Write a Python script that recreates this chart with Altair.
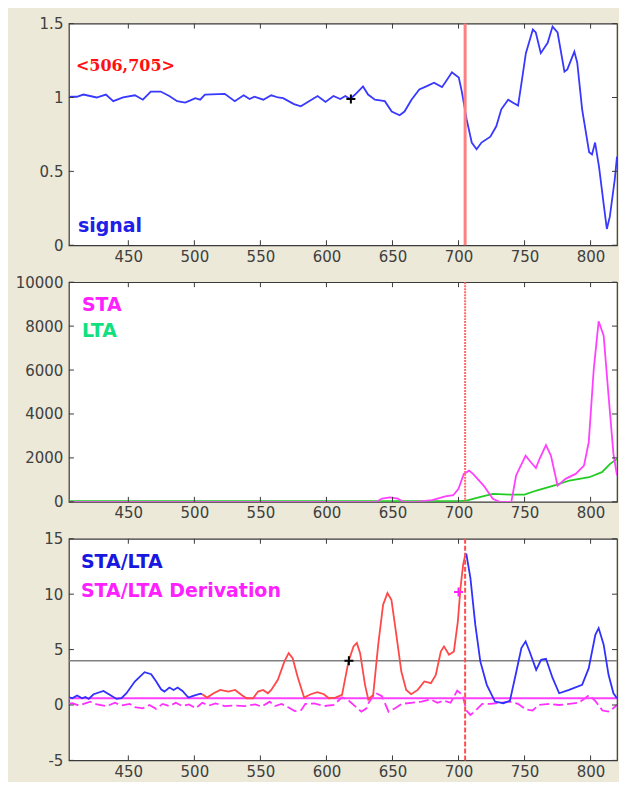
import altair as alt
import pandas as pd

# ---------------- data ----------------
x_ticks = [450, 500, 550, 600, 650, 700, 750, 800]
y1_ticks = [0, 0.5, 1, 1.5]
y2_ticks = [0, 2000, 4000, 6000, 8000, 10000]
y3_ticks = [-5, 0, 5, 10, 15]

trigger_on = 506
trigger_off = 705
threshold = 4
deriv_level = 0.6

sig_x = [405, 406.5, 411, 416, 426, 433, 438.6, 446, 455, 461, 467, 474.5, 481, 487, 493, 497,
         500.7, 504.4, 508, 523, 530.6, 537.3, 541.8, 545.5, 552.2, 558.2, 563.4, 567.2, 575.4,
         580.6, 585.9, 593.3, 599.3, 605.3, 610.5, 614.3, 618, 621.7, 627.7, 631.5, 636.7, 644.2,
         649.4, 655.4, 659.1, 664.4, 670.3, 675.6, 681.5, 687.5, 691.3, 695, 700.2, 702.5, 706.2,
         710, 713.7, 717.4, 724.1, 728.6, 732.4, 737.6, 741.3, 745.1, 747.3, 751, 756.3, 758.5,
         762.3, 767.5, 771.2, 775, 780.2, 782.4, 787.7, 789.9, 793.6, 798.9, 801.1, 803.4, 806.4,
         810.1, 812.3, 814.6, 818.3, 820]
sig_y = [1.0, 1.005, 1.005, 1.02, 1.0, 1.02, 0.975, 1.0, 1.015, 0.985, 1.04, 1.04, 1.01, 0.975,
         0.965, 0.98, 0.995, 0.985, 1.02, 1.025, 0.975, 1.015, 0.99, 1.005, 0.985, 1.015, 1.0,
         0.995, 0.955, 0.94, 0.97, 1.01, 0.97, 1.01, 0.99, 1.01, 0.99, 1.02, 1.075, 1.02, 0.985,
         0.975, 0.905, 0.88, 0.905, 0.985, 1.055, 1.075, 1.10, 1.07, 1.12, 1.17, 1.135, 1.04,
         0.85, 0.695, 0.65, 0.695, 0.735, 0.805, 0.92, 0.985, 0.965, 0.945, 1.075, 1.30, 1.46,
         1.44, 1.30, 1.37, 1.48, 1.44, 1.175, 1.19, 1.31, 1.235, 0.92, 0.63, 0.615, 0.695, 0.53,
         0.265, 0.11, 0.195, 0.445, 0.6]

sta_x = [405, 638, 642, 648, 654, 658, 668, 680, 690, 696, 700, 704, 708, 711, 719, 726, 731,
         740, 743.6, 750.8, 754.8, 758.6, 761.3, 766.2, 770, 775, 781, 788.7, 795, 798.6, 802.4,
         806.1, 809.9, 813.6, 817.3, 820]
sta_y = [0, 0, 150, 200, 150, 0, 0, 80, 250, 300, 590, 1270, 1420, 1270, 740, 140, 0, 0, 1200,
         2100, 1800, 1540, 1950, 2580, 2100, 740, 1045, 1270, 1650, 2710, 6045, 8220, 7560, 4830,
         2180, 1200]

lta_x = [405, 700, 706, 716, 726, 739, 750, 759, 774, 784, 799, 808.6, 814.8, 820]
lta_y = [30, 30, 50, 210, 360, 330, 330, 515, 770, 970, 1120, 1350, 1730, 1950]

ratio_pre_x = [405, 407.5, 411.2, 415, 417.5, 420, 423.7, 431.2, 436.2, 441.1, 444.8, 448.6,
               454.9, 462.3, 467.3, 471.1, 474.8, 477.3, 481.1, 484.3, 487.3, 491, 495.4, 499.7,
               504.6, 506]
ratio_pre_y = [0.7, 0.61, 0.85, 0.61, 0.73, 0.55, 0.97, 1.27, 0.91, 0.55, 0.61, 1.06, 2.12, 2.96,
               2.78, 2.12, 1.42, 1.21, 1.58, 1.36, 1.58, 1.27, 0.67, 0.85, 1.03, 0.97]

ratio_trig_x = [506, 509.6, 514.6, 519.6, 525.8, 530.8, 535.8, 539.5, 544.5, 548.2, 552, 555.7,
                558.2, 563.2, 568.2, 571.4, 574.4, 578.1, 583.1, 588.1, 593.1, 598.1, 601.8,
                606.8, 611.8, 616.7, 620.5, 623, 625.5, 629.2, 631.7, 635.4, 639.2, 642.9, 646.2,
                649.2, 652.9, 656.7, 660.4, 664.1, 669.1, 674.1, 679.1, 682.8, 686.6, 689, 692.8,
                696.5, 699.5, 701.5, 703.5, 705]
ratio_trig_y = [0.97, 0.67, 1.06, 1.36, 1.21, 1.36, 0.91, 0.61, 0.61, 1.21, 1.36, 1.06, 1.36,
                2.27, 3.93, 4.68, 4.23, 2.57, 0.67, 0.97, 1.15, 0.97, 0.61, 0.67, 0.91, 3.93,
                5.29, 5.59, 4.68, 1.82, 0.5, 0.91, 5.44, 9.05, 10.1, 9.5, 6.34, 3.02, 1.36, 0.97,
                1.36, 2.12, 1.97, 2.72, 4.83, 5.29, 4.53, 4.83, 7.55, 10.57, 12.67, 13.5]

ratio_post_x = [705, 706, 709, 712.7, 716.5, 721.4, 727.6, 733.9, 738.9, 743.8, 747.6, 750.8,
                753.8, 758.8, 762.5, 766.2, 771.3, 776.2, 783.7, 793.6, 798.6, 803.6, 806.1,
                809.9, 813.6, 817.3, 820]
ratio_post_y = [13.5, 13.58, 11.47, 7.25, 3.93, 1.82, 0.31, 0.16, 0.37, 3.02, 5.14, 5.74, 4.83,
                3.17, 4.08, 4.17, 2.42, 1.06, 1.36, 1.82, 3.32, 6.34, 6.94, 5.44, 2.72, 1.06, 0.6]

deriv_x = [405, 407.5, 412.5, 416.2, 421.2, 426.2, 433.6, 439.9, 444.8, 451.1, 454.9, 461, 466,
           471, 476, 481, 486, 491, 496, 501, 506, 511, 516, 523, 531, 538, 546, 551, 557, 561,
           566, 571, 576, 581, 584, 590.6, 598, 605.5, 611.8, 616.8, 621.6, 626.5, 630.3, 632,
           637, 642, 647, 652, 657, 664, 672, 679, 684, 689, 694, 699, 703, 706, 709, 713, 718,
           724, 731, 739, 745, 751, 756, 761, 769, 776, 784, 791, 799, 804, 809, 814, 820]
deriv_y = [0.1, 0.16, -0.05, 0.1, 0.3, 0.05, -0.1, 0.2, -0.05, 0.1, -0.2, -0.3, 0.0, -0.35, 0.1,
           -0.1, 0.2, -0.1, 0.05, -0.3, 0.2, -0.05, 0.15, -0.1, -0.05, -0.1, 0.05, -0.15, 0.3,
           -0.1, 0.1, -0.2, -0.55, -0.45, 0.1, 0.15, -0.1, 0.0, 0.7, 0.4, -0.1, -0.6, -0.3, 0.2,
           1.1, 0.8, -0.6, -0.3, 0.1, 0.2, 0.3, 0.5, 0.2, 0.4, 0.2, 1.3, 0.9, -0.5, -0.9, -0.5,
           0.1, 0.1, 0.2, 0.3, 0.1, -0.4, -0.5, 0.0, 0.1, 0.0, 0.1, 0.2, 0.9, 0.3, -0.5, -0.6, 0.0]

mark1_x, mark1_y = [618.5], [0.99]
mark3_black_x, mark3_black_y = [617], [4.0]
mark3_mag_x, mark3_mag_y = [700], [10.2]

label_window = ["<506,705>"]
label_signal = ["signal"]
label_sta = ["STA"]
label_lta = ["LTA"]
label_ratio = ["STA/LTA"]
label_deriv = ["STA/LTA Derivation"]

# ---------------- style ----------------
W = 549
YEXT = 60
H1, H2, H3 = 222, 220, 222
XDOM = [405, 820]
TICK_FONT = "DejaVu Sans"
TICK_COLOR = "#404040"
FRAME = "#3a3a3a"
PLUS = "M-1,0L1,0M0,-1L0,1"


def xenc(field):
    return alt.X(f"{field}:Q",
                 scale=alt.Scale(domain=XDOM, nice=False, zero=False),
                 axis=alt.Axis(values=x_ticks, title=None, ticks=False, domain=False, grid=False,
                               labelPadding=4, labelFontSize=15, labelFont=TICK_FONT,
                               labelColor=TICK_COLOR, labelFlush=False, labelOverlap=False,
                               minExtent=20, maxExtent=20))


def yenc(field, dom, ticks):
    return alt.Y(f"{field}:Q",
                 scale=alt.Scale(domain=dom, nice=False, zero=False),
                 axis=alt.Axis(values=ticks, title=None, ticks=False, domain=False, grid=False,
                               labelPadding=6, labelFontSize=15, labelFont=TICK_FONT,
                               labelColor=TICK_COLOR, labelFlush=False, labelOverlap=False,
                               labelExpr="toString(datum.value)",
                               minExtent=YEXT, maxExtent=YEXT))


def line(xs, ys, dom, ticks, color, width=1.6, dash=None):
    df = pd.DataFrame({"x": xs, "y": ys})
    kw = dict(color=color, strokeWidth=width, clip=True)
    if dash:
        kw["strokeDash"] = dash
    return alt.Chart(df).mark_line(**kw).encode(x=xenc("x"), y=yenc("y", dom, ticks))


def vline(xv, dom, ticks, color, width, dash=None):
    df = pd.DataFrame({"x": [xv]})
    kw = dict(color=color, strokeWidth=width)
    if dash:
        kw["strokeDash"] = dash
    return alt.Chart(df).mark_rule(**kw).encode(x=xenc("x"))


def hline(yv, dom, ticks, color, width):
    df = pd.DataFrame({"y": [yv]})
    return alt.Chart(df).mark_rule(color=color, strokeWidth=width).encode(y=yenc("y", dom, ticks))


def plus(xs, ys, dom, ticks, color):
    df = pd.DataFrame({"x": xs, "y": ys})
    return alt.Chart(df).mark_point(shape=PLUS, filled=False, stroke=color, strokeWidth=2,
                                    size=81, opacity=1).encode(x=xenc("x"), y=yenc("y", dom, ticks))


def label(txt, px, py, color, size=19, font="DejaVu Sans"):
    df = pd.DataFrame({"t": txt})
    return alt.Chart(df).mark_text(align="left", baseline="middle", font=font, fontSize=size,
                                   fontWeight="bold", color=color).encode(
        x=alt.value(px), y=alt.value(py), text="t:N")


def frame_ticks(dom, ticks, h):
    tx = pd.DataFrame({"v": x_ticks})
    ty = pd.DataFrame({"v": ticks})
    top = alt.Chart(tx).mark_rule(color=FRAME).encode(x=xenc("v"), y=alt.value(0), y2=alt.value(5))
    bot = alt.Chart(tx).mark_rule(color=FRAME).encode(x=xenc("v"), y=alt.value(h), y2=alt.value(h - 5))
    lef = alt.Chart(ty).mark_rule(color=FRAME).encode(y=yenc("v", dom, ticks), x=alt.value(0), x2=alt.value(5))
    rig = alt.Chart(ty).mark_rule(color=FRAME).encode(y=yenc("v", dom, ticks), x=alt.value(W), x2=alt.value(W - 5))
    return [top, bot, lef, rig]


# ---------------- panel 1 ----------------
D1 = [0, 1.5]
p1 = alt.layer(
    line(sig_x, sig_y, D1, y1_ticks, "#3838FF", 1.8),
    vline(trigger_off, D1, y1_ticks, "#FF8080", 3),
    plus(mark1_x, mark1_y, D1, y1_ticks, "#000000"),
    label(label_window, 7, 42, "#FF1010", 16, "DejaVu Serif"),
    label(label_signal, 9, 203, "#2020E8", 19),
    *frame_ticks(D1, y1_ticks, H1),
).properties(width=W, height=H1)

# ---------------- panel 2 ----------------
D2 = [0, 10000]
p2 = alt.layer(
    line(lta_x, lta_y, D2, y2_ticks, "#22CC22", 1.8),
    line(sta_x, sta_y, D2, y2_ticks, "#FF40FF", 1.8),
    vline(trigger_off, D2, y2_ticks, "#FF6A6A", 2, [2, 1]),
    label(label_sta, 13, 23, "#FF20FF", 19),
    label(label_lta, 13, 49, "#10E080", 19),
    *frame_ticks(D2, y2_ticks, H2),
).properties(width=W, height=H2)

# ---------------- panel 3 ----------------
D3 = [-5, 15]
p3 = alt.layer(
    hline(threshold, D3, y3_ticks, "#808080", 1.5),
    line(deriv_x, deriv_y, D3, y3_ticks, "#FF30FF", 1.8, [10, 4]),
    hline(deriv_level, D3, y3_ticks, "#FF40FF", 2),
    line(ratio_pre_x, ratio_pre_y, D3, y3_ticks, "#3030FF", 1.8),
    line(ratio_trig_x, ratio_trig_y, D3, y3_ticks, "#FF4848", 1.8),
    line(ratio_post_x, ratio_post_y, D3, y3_ticks, "#3030FF", 1.8),
    vline(trigger_off, D3, y3_ticks, "#FF5050", 2, [5, 2]),
    plus(mark3_black_x, mark3_black_y, D3, y3_ticks, "#000000"),
    plus(mark3_mag_x, mark3_mag_y, D3, y3_ticks, "#FF20FF"),
    label(label_ratio, 12, 23, "#1818E0", 19),
    label(label_deriv, 12, 52, "#FF20FF", 19),
    *frame_ticks(D3, y3_ticks, H3),
).properties(width=W, height=H3)

chart = alt.vconcat(p1, p2, p3, spacing=37, bounds="flush").configure(
    background="#ECE9D8",
    padding={"left": 0, "top": 7, "right": 0, "bottom": 0},
).configure_view(
    fill="white", stroke=FRAME, strokeWidth=1.2
)

chart.save("out.html", embed_options={"renderer": "svg", "actions": False})
